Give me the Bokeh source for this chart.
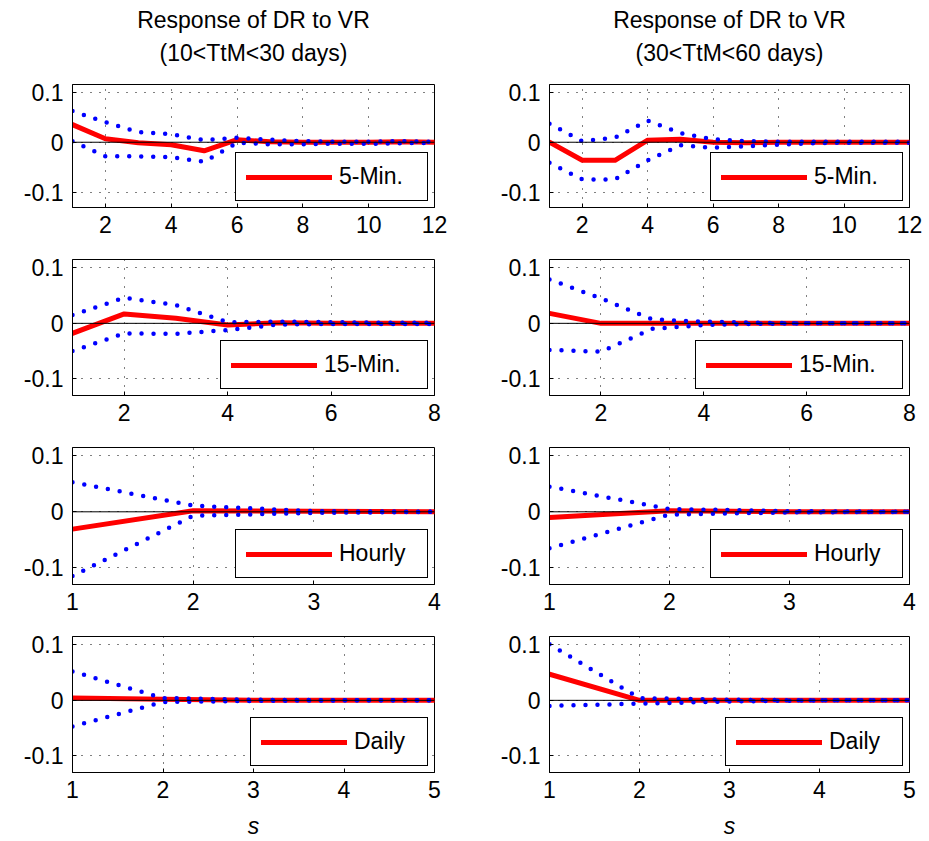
from bokeh.plotting import figure
from bokeh.layouts import column, row
from bokeh.models import Range1d, FixedTicker, Span, LinearAxis
from bokeh.embed import file_html
from bokeh.resources import INLINE

# ---------------- data ----------------
s_5min = [1, 2, 3, 4, 5, 6, 7, 8, 9, 10, 11, 12]
s_15min = [1, 2, 3, 4, 5, 6, 7, 8]
s_hourly = [1, 2, 3, 4]
s_daily = [1, 2, 3, 4, 5]

# 10<TtM<30 days (left column)
a_5min_irf = [0.035, 0.007, -0.001, -0.005, -0.017, 0.005, 0.001, 0.0, 0.0, 0.0, 0.001, 0.0]
a_5min_up = [0.062, 0.040, 0.020, 0.016, 0.004, 0.009, 0.005, 0.002, 0.001, 0.001, 0.002, 0.001]
a_5min_lo = [0.002, -0.028, -0.028, -0.030, -0.039, -0.001, -0.004, -0.004, -0.003, -0.003, -0.002, -0.001]

a_15min_irf = [-0.018, 0.017, 0.009, -0.003, 0.001, 0.0, 0.0, 0.0]
a_15min_up = [0.015, 0.046, 0.033, 0.002, 0.003, 0.002, 0.001, 0.001]
a_15min_lo = [-0.050, -0.018, -0.019, -0.012, -0.002, -0.001, -0.001, -0.001]

a_hourly_irf = [-0.031, 0.002, 0.001, 0.0]
a_hourly_up = [0.053, 0.011, 0.001, 0.0]
a_hourly_lo = [-0.115, -0.007, -0.002, 0.0]

a_daily_irf = [0.004, 0.002, 0.0, 0.0, 0.0]
a_daily_up = [0.052, 0.004, 0.001, 0.0, 0.0]
a_daily_lo = [-0.047, -0.003, -0.001, 0.0, 0.0]

# 30<TtM<60 days (right column)
b_5min_irf = [0.0, -0.036, -0.036, 0.004, 0.006, 0.0, -0.001, 0.0, 0.0, 0.0, 0.0, 0.0]
b_5min_up = [0.037, 0.002, 0.009, 0.043, 0.018, 0.006, 0.002, 0.001, 0.001, 0.001, 0.001, 0.001]
b_5min_lo = [-0.041, -0.074, -0.074, -0.036, -0.006, -0.011, -0.008, -0.005, -0.002, -0.001, -0.001, -0.001]

b_15min_irf = [0.018, 0.0, 0.0, 0.0, 0.0, 0.0, 0.0, 0.0]
b_15min_up = [0.079, 0.045, 0.007, 0.003, 0.001, 0.0, 0.0, 0.0]
b_15min_lo = [-0.048, -0.051, -0.010, -0.003, -0.001, 0.0, 0.0, 0.0]

b_hourly_irf = [-0.010, 0.002, 0.0, 0.0]
b_hourly_up = [0.045, 0.005, 0.001, 0.0]
b_hourly_lo = [-0.065, -0.005, -0.001, 0.0]

b_daily_irf = [0.047, 0.0, 0.0, 0.0, 0.0]
b_daily_up = [0.101, 0.004, 0.001, 0.0, 0.0]
b_daily_lo = [-0.010, -0.006, -0.002, 0.0, 0.0]

title_main = ["Response of DR to VR", "Response of DR to VR"]
title_sub = ["(10<TtM<30 days)", "(30<TtM<60 days)"]
freq_labels = ["5-Min.", "15-Min.", "Hourly", "Daily"]

x_ticks_5min = [2, 4, 6, 8, 10, 12]
x_ticks_15min = [2, 4, 6, 8]
x_ticks_hourly = [1, 2, 3, 4]
x_ticks_daily = [1, 2, 3, 4, 5]
y_ticks = [-0.1, 0, 0.1]
y_tick_labels = ["-0.1", "0", "0.1"]
y_lim = [-0.13, 0.115]
x_label = "s"

# ---------------- style ----------------
FONT = "Liberation Sans"
FS = "23px"
LEGEND_LABEL_W = {"5-Min.": 78, "15-Min.": 93, "Hourly": 78, "Daily": 63}


def title_axis(p, text, standoff):
    ax = LinearAxis(ticker=FixedTicker(ticks=[]), axis_label=text,
                    axis_label_standoff=standoff, axis_label_text_font=FONT,
                    axis_label_text_font_size=FS, axis_label_text_font_style="normal",
                    axis_label_text_color="black", axis_line_color=None,
                    major_tick_in=0, major_tick_out=0, minor_tick_in=0, minor_tick_out=0,
                    major_tick_line_color=None, minor_tick_line_color=None,
                    major_label_standoff=0)
    p.add_layout(ax, "above")


def panel(x, irf, up, lo, name, xt, left, frame_h, top, bottom, titles=None, xlabel=None):
    p = figure(frame_width=362 if left else 360, frame_height=frame_h,
               x_range=Range1d(x[0], x[-1]), y_range=Range1d(y_lim[0], y_lim[1]),
               output_backend="svg", toolbar_location=None,
               min_border_left=72 if left else 95, min_border_right=20 if left else 15,
               min_border_top=top, min_border_bottom=bottom,
               background_fill_color="white", border_fill_color="white")
    p.outline_line_color = "black"
    p.outline_line_width = 1
    p.outline_line_alpha = 1

    xa = p.below[0]
    ya = p.left[0]
    xa.ticker = FixedTicker(ticks=xt)
    ya.ticker = FixedTicker(ticks=y_ticks)
    ya.major_label_overrides = {v: l for v, l in zip(y_ticks, y_tick_labels)}
    for ax in (xa, ya):
        ax.major_label_text_font = FONT
        ax.major_label_text_font_size = FS
        ax.major_label_text_color = "black"
        ax.axis_line_color = "black"
        ax.major_tick_in = 4
        ax.major_tick_out = 0
        ax.major_tick_line_color = "black"
        ax.minor_tick_line_color = None
    xa.major_label_standoff = 8
    ya.major_label_standoff = 9
    if xlabel:
        xa.axis_label = xlabel
        xa.axis_label_text_font = FONT
        xa.axis_label_text_font_size = FS
        xa.axis_label_text_font_style = "italic"
        xa.axis_label_text_color = "black"
        xa.axis_label_standoff = 12

    if titles:
        main, sub = titles
        title_axis(p, sub, 19)
        title_axis(p, main, 4)

    for g in (p.xgrid, p.ygrid):
        g.grid_line_color = "black"
        g.grid_line_dash = "1 8"
        g.grid_line_width = 1
    p.xgrid.ticker = FixedTicker(ticks=xt)
    p.ygrid.ticker = FixedTicker(ticks=y_ticks)

    p.line(x, irf, line_color="#ff0000", line_width=5, line_join="round",
           line_cap="round", legend_label=name)
    p.line(x, up, line_color="#0000ff", line_width=4.5, line_dash="0 12", line_cap="round")
    p.line(x, lo, line_color="#0000ff", line_width=4.5, line_dash="0 12", line_cap="round")
    p.add_layout(Span(location=0, dimension="width", line_color="black", line_width=1))

    lg = p.legend[0]
    lg.location = "bottom_right"
    lg.margin = 6
    lg.padding = 10
    lg.spacing = 0
    lg.glyph_width = 86
    lg.glyph_height = 22
    lg.label_height = 22
    lg.label_width = LEGEND_LABEL_W[name]
    lg.label_standoff = 7
    lg.label_text_font = FONT
    lg.label_text_font_size = FS
    lg.label_text_color = "black"
    lg.border_line_color = "black"
    lg.border_line_width = 1
    lg.border_line_alpha = 1
    lg.background_fill_color = "white"
    lg.background_fill_alpha = 1
    return p


xs = [s_5min, s_15min, s_hourly, s_daily]
xts = [x_ticks_5min, x_ticks_15min, x_ticks_hourly, x_ticks_daily]
left_data = [(a_5min_irf, a_5min_up, a_5min_lo), (a_15min_irf, a_15min_up, a_15min_lo),
             (a_hourly_irf, a_hourly_up, a_hourly_lo), (a_daily_irf, a_daily_up, a_daily_lo)]
right_data = [(b_5min_irf, b_5min_up, b_5min_lo), (b_15min_irf, b_15min_up, b_15min_lo),
              (b_hourly_irf, b_hourly_up, b_hourly_lo), (b_daily_irf, b_daily_up, b_daily_lo)]
frame_hs = [123, 136, 137, 136]
tops = [84, 12, 12, 12]
bottoms = [40, 40, 40, 58]

rows = []
for i in range(4):
    figs = []
    for j, data in enumerate((left_data, right_data)):
        irf, up, lo = data[i]
        figs.append(panel(xs[i], irf, up, lo, freq_labels[i], xts[i], left=(j == 0),
                          frame_h=frame_hs[i], top=tops[i], bottom=bottoms[i],
                          titles=(title_main[j], title_sub[j]) if i == 0 else None,
                          xlabel=x_label if i == 3 else None))
    rows.append(row(*figs, spacing=0))

layout = column(*rows, spacing=0)
open("out.html", "w").write(file_html(layout, INLINE))
